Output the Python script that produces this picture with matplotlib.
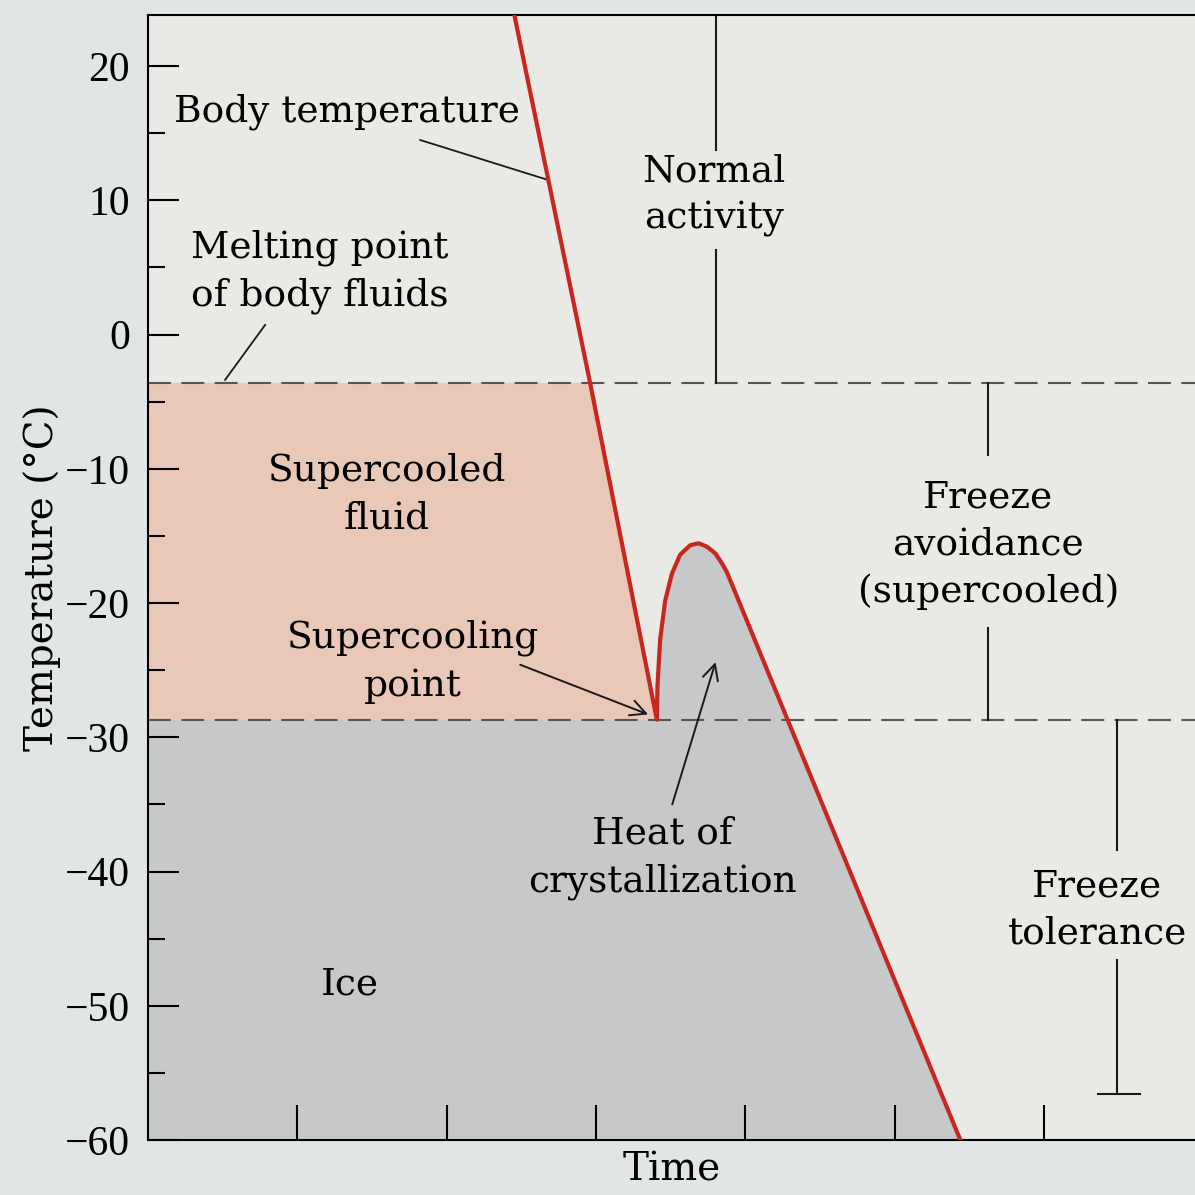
import numpy as np
import matplotlib
matplotlib.use('Agg')
import matplotlib.pyplot as plt

plt.rcParams['font.family'] = ['DejaVu Serif']

# body temperature trace (time in arbitrary units, temperature in °C)
time = [2.44, 2.96, 3.407, 3.411, 3.429, 3.463, 3.508, 3.563, 3.630, 3.686,
        3.742, 3.798, 3.843, 3.876, 5.439]
temperature = [24.5, -3.6, -28.7, -26.2, -22.7, -19.8, -17.8, -16.4, -15.7, -15.55,
               -15.8, -16.3, -17.05, -17.7, -60.0]

melting_point = -3.6
supercooling_point = -28.7
spike_idx = 2  # index of the supercooling point in the trace

y_major = [20, 10, 0, -10, -20, -30, -40, -50, -60]
y_minor = [15, 5, -5, -15, -25, -35, -45, -55]
x_ticks = [1, 2, 3, 4, 5, 6]

# bracket extents for the annotation bars
normal_x = 3.804
avoid_x = 5.626
tolerance_x = 6.49
tolerance_low = -56.6

RED = '#c8261e'
PINK = '#eac8b8'
ICE = '#c6c8ca'
DASH = '#555555'

fig = plt.figure(figsize=(11.95, 11.95), dpi=100)
fig.patch.set_facecolor('#e2e5e5')
ax = fig.add_axes([148 / 1195, 1 - 1140 / 1195, 1 - 148 / 1195, (1140 - 15) / 1195])
ax.set_facecolor('#e9e9e5')
ax.set_xlim(0, 7.01)
ax.set_ylim(-60, 23.8)

t = np.array(time)
T = np.array(temperature)

# supercooled fluid region: left of the cooling line, between the two dashed lines
x_melt = np.interp(melting_point, T[:spike_idx + 1][::-1], t[:spike_idx + 1][::-1])
ax.fill([0, x_melt, t[spike_idx], 0],
        [melting_point, melting_point, supercooling_point, supercooling_point],
        color=PINK, lw=0, zorder=1)

# ice region: below the supercooling line plus the crystallization hump
ice_x = np.concatenate([[0], t[spike_idx:], [t[-1], 0]])
ice_y = np.concatenate([[supercooling_point], T[spike_idx:], [-60, -60]])
ax.fill(ice_x, ice_y, color=ICE, lw=0, zorder=1)

ax.axhline(melting_point, color=DASH, lw=1.5, dashes=(11, 5), zorder=2)
ax.axhline(supercooling_point, color=DASH, lw=1.5, dashes=(11, 5), zorder=2)

ax.plot(t, T, color=RED, lw=3, solid_joinstyle='round', zorder=4)

# spines / ticks
ax.spines['right'].set_visible(False)
for s in ['left', 'bottom', 'top']:
    ax.spines[s].set_linewidth(1.5)
ax.set_yticks(y_major)
ax.set_yticks(y_minor, minor=True)
ax.set_xticks(x_ticks)
ax.set_xticklabels([])
ax.tick_params(axis='y', which='major', direction='in', length=22, width=1.5,
               pad=13)
for lab in ax.get_yticklabels():
    lab.set_fontfamily('Liberation Serif')
    lab.set_fontsize(30)
ax.tick_params(axis='y', which='minor', direction='in', length=12, width=1.5)
ax.tick_params(axis='x', which='major', direction='in', length=25, width=1.5)
ax.set_xlabel('Time', fontsize=28, labelpad=5)
ax.set_ylabel('Temperature (°C)', fontsize=28, labelpad=3)

fs = 27
ls = 1.4
lc = '#1a1a1a'
ax.text(1.333, 16.57, 'Body temperature', fontsize=fs, ha='center', va='center')
ax.plot([1.822, 2.679], [14.49, 11.51], color=lc, lw=1.3, zorder=3)

ax.text(normal_x - 0.013, 10.39, 'Normal\nactivity', fontsize=fs, ha='center', va='center',
        linespacing=ls)
ax.plot([normal_x, normal_x], [23.8, 13.75], color=lc, lw=1.5)
ax.plot([normal_x, normal_x], [6.3, melting_point], color=lc, lw=1.5)

ax.text(1.152, 4.66, 'Melting point\nof body fluids', fontsize=fs, ha='center', va='center',
        linespacing=ls)
ax.plot([0.784, 0.516], [0.71, -3.38], color=lc, lw=1.3)

ax.text(1.601, -11.94, 'Supercooled\nfluid', fontsize=fs, ha='center', va='center',
        linespacing=ls)

ax.text(1.775, -24.38, 'Supercooling\npoint', fontsize=fs, ha='center', va='center',
        linespacing=ls)
ax.annotate('', xy=(3.349, -28.3), xytext=(2.492, -24.6),
            arrowprops=dict(arrowstyle='->', color=lc, lw=1.4, mutation_scale=28,
                            shrinkA=0, shrinkB=0), zorder=5)

ax.text(3.443, -38.97, 'Heat of\ncrystallization', fontsize=fs, ha='center', va='center',
        linespacing=ls)
ax.annotate('', xy=(3.80, -24.4), xytext=(3.51, -35.0),
            arrowprops=dict(arrowstyle='->', color=lc, lw=1.4, mutation_scale=28,
                            shrinkA=0, shrinkB=0), zorder=5)

ax.text(1.353, -48.43, 'Ice', fontsize=fs, ha='center', va='center')

ax.text(avoid_x, -15.67, 'Freeze\navoidance\n(supercooled)', fontsize=fs, ha='center',
        va='center', linespacing=ls)
ax.plot([avoid_x, avoid_x], [melting_point, -8.97], color=lc, lw=1.5)
ax.plot([avoid_x, avoid_x], [-21.85, supercooling_point], color=lc, lw=1.5)

ax.text(6.356, -42.85, 'Freeze\ntolerance', fontsize=fs, ha='center', va='center',
        linespacing=ls)
ax.plot([tolerance_x, tolerance_x], [supercooling_point, -38.38], color=lc, lw=1.5)
ax.plot([tolerance_x, tolerance_x], [-46.57, tolerance_low], color=lc, lw=1.5)
ax.plot([6.363, 6.644], [tolerance_low, tolerance_low], color=lc, lw=1.5)

fig.savefig('out.png', dpi=100, facecolor=fig.get_facecolor())
